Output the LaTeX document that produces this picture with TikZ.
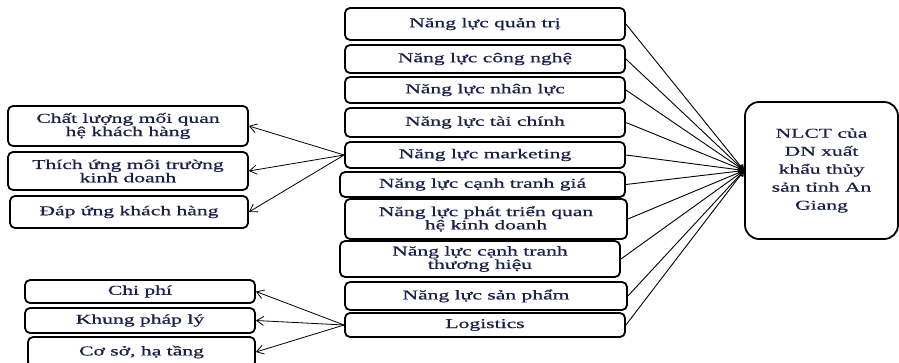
\documentclass[tikz,border=0pt]{standalone}
\usepackage{fontspec}
\setmainfont[FakeStretch=1.6,FakeBold=0.7]{Liberation Serif}
\usetikzlibrary{arrows.meta}
\definecolor{txt}{HTML}{1A2048}
\tikzset{
  box/.style={draw=black, line width=1.8pt, rounded corners=5pt, inner sep=0pt,
    text=txt, align=center, font=\fontsize{13.5}{12}\selectfont},
  conn/.style={line width=0.8pt, -{Straight Barb[length=7pt,width=9pt,line width=0.8pt]}},
  conr/.style={line width=0.9pt, -{Straight Barb[length=5pt,width=6pt,line width=0.8pt]}}
}
\begin{document}
\begin{tikzpicture}[x=1pt,y=-1pt]
\useasboundingbox (0,0) rectangle (899,363);
\clip (0,0) rectangle (899,363);
% middle column
\node[box, minimum width=280pt, minimum height=32pt] (m1) at (485,24) {Năng lực quản trị};
\node[box, minimum width=280pt, minimum height=28pt] (m2) at (485,59) {Năng lực công nghệ};
\node[box, minimum width=280pt, minimum height=26pt] (m3) at (485,90) {Năng lực nhân lực};
\node[box, minimum width=280pt, minimum height=29pt] (m4) at (485,122.5) {Năng lực tài chính};
\node[box, minimum width=280pt, minimum height=26pt] (m5) at (485,155) {Năng lực marketing};
\node[box, minimum width=285pt, minimum height=25pt] (m6) at (482.5,184.5) {Năng lực cạnh tranh giá};
\node[box, minimum width=282pt, minimum height=40pt] (m7) at (486,219) {Năng lực phát triển quan\\hệ kinh doanh};
\node[box, minimum width=280pt, minimum height=36pt] (m8) at (480,259) {Năng lực cạnh tranh\\thương hiệu};
\node[box, minimum width=282pt, minimum height=28pt] (m9) at (486,296) {Năng lực sản phẩm};
\node[box, minimum width=280pt, minimum height=24pt] (m10) at (485,325) {Logistics};
% right box
\node[box, rounded corners=14pt, minimum width=153pt, minimum height=137pt,
  font=\fontsize{13.5}{18}\selectfont] (r) at (821.5,170.5)
  {NLCT của\\DN xuất\\khẩu thủy\\sản tỉnh An\\Giang};
% left upper
\node[box, minimum width=240pt, minimum height=40pt] (l1) at (128,126) {Chất lượng mối quan\\hệ khách hàng};
\node[box, minimum width=240pt, minimum height=38pt] (l2) at (128,171) {Thích ứng môi trường\\kinh doanh};
\node[box, minimum width=238pt, minimum height=32pt] (l3) at (129,212) {Đáp ứng khách hàng};
% left lower
\node[box, minimum width=230pt, minimum height=23pt] (b1) at (140,291.5) {Chi phí};
\node[box, minimum width=230pt, minimum height=25pt] (b2) at (140,320.5) {Khung pháp lý};
\node[box, minimum width=227pt, minimum height=30pt] (b3) at (141.5,352) {Cơ sở, hạ tầng};
% connectors to right box
\foreach \m in {m1,m2,m3,m4,m5,m6,m7,m8,m9,m10}
  \draw[conr] (\m.east) -- (r.west);
% marketing to left
\foreach \l in {l1,l2,l3}
  \draw[conn] (m5.west) -- (\l.east);
% logistics to left
\foreach \b in {b1,b2,b3}
  \draw[conn] (m10.west) -- (\b.east);
\end{tikzpicture}
\end{document}
